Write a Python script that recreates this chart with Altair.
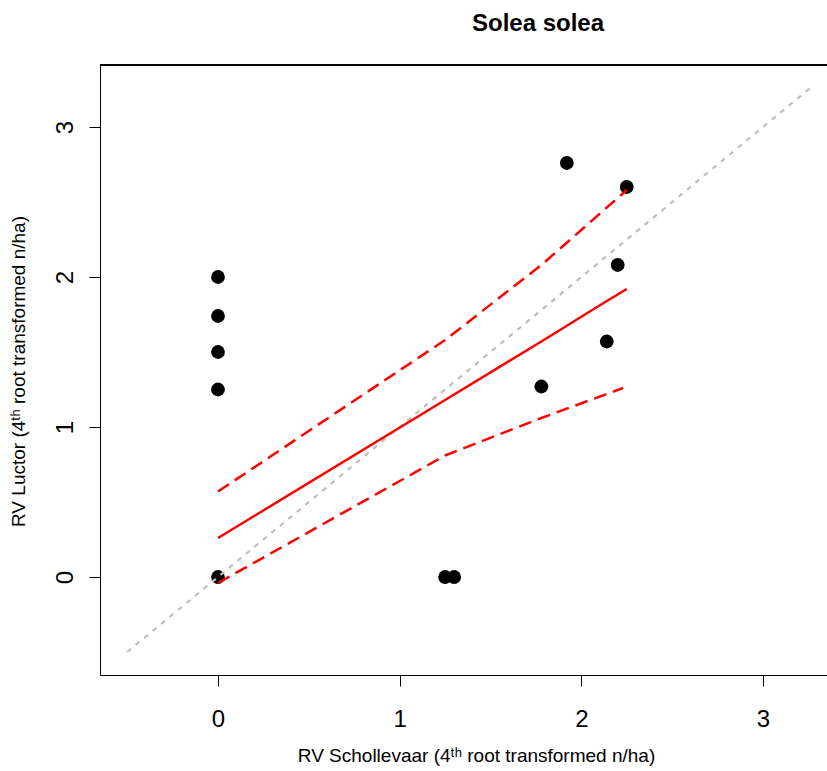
import altair as alt
import pandas as pd

# observed points (4th-root transformed n/ha)
pt_x = [0, 0, 0, 0, 0, 1.25, 1.30, 1.78, 1.92, 2.25, 2.20, 2.14]
pt_y = [0, 1.25, 1.50, 1.74, 2.00, 0, 0, 1.27, 2.76, 2.60, 2.08, 1.57]

# fitted line
fit_x = [0, 1.25, 1.78, 2.14, 2.25]
fit_y = [0.26, 1.18, 1.57, 1.84, 1.92]

# confidence band (dashed)
up_x = [0, 1.25, 1.78, 2.25]
up_y = [0.57, 1.58, 2.08, 2.58]
lo_x = [0, 1.25, 1.78, 2.23]
lo_y = [-0.04, 0.81, 1.06, 1.26]

# 1:1 reference line
ref_x = [-0.5, 3.27]
ref_y = [-0.5, 3.27]

# axis tick labels
tick_vals = [0, 1, 2, 3]

W, H = 727, 610
X_DOM = [-0.6495, 3.3522]
Y_DOM = [-0.6533, 3.4133]
FONT = "Liberation Sans"

pts = pd.DataFrame({"x": pt_x, "y": pt_y})
fit = pd.DataFrame({"x": fit_x, "y": fit_y})
band = pd.concat([
    pd.DataFrame({"x": up_x, "y": up_y, "band": "upper"}),
    pd.DataFrame({"x": lo_x, "y": lo_y, "band": "lower"}),
])
ref = pd.DataFrame({"x": ref_x, "y": ref_y})

xscale = alt.Scale(domain=X_DOM, nice=False, zero=False)
yscale = alt.Scale(domain=Y_DOM, nice=False, zero=False)

xaxis = alt.Axis(
    values=tick_vals, format="d", grid=False, tickSize=11, tickColor="black",
    domainColor="black", labelFontSize=24, labelFont=FONT, labelColor="black",
    labelBaseline="alphabetic", labelPadding=40, labelFlush=False,
    title="RV Schollevaar (4ᵗʰ root transformed n/ha)",
    titleFont=FONT, titleFontSize=19, titleFontWeight="normal", titleColor="black",
    titleX=376, titleY=80, titleAlign="center", titleBaseline="middle",
)
yaxis = alt.Axis(
    values=tick_vals, format="d", grid=False, tickSize=11, tickColor="black",
    domainColor="black", labelFontSize=24, labelFont=FONT, labelColor="black",
    labelAngle=270, labelAlign="center", labelBaseline="alphabetic",
    labelPadding=17, labelFlush=False,
    title="RV Luctor (4ᵗʰ root transformed n/ha)",
    titleFont=FONT, titleFontSize=19, titleFontWeight="normal", titleColor="black",
    titleX=-82, titleY=306, titleAngle=270, titleAlign="center", titleBaseline="middle",
)

points = alt.Chart(pts).mark_circle(size=190, color="black", opacity=1).encode(
    x=alt.X("x:Q", scale=xscale, axis=xaxis),
    y=alt.Y("y:Q", scale=yscale, axis=yaxis),
)

refline = alt.Chart(ref).mark_line(
    color="#BEBEBE", strokeWidth=2.2, strokeDash=[5, 6]
).encode(x=alt.X("x:Q", scale=xscale), y=alt.Y("y:Q", scale=yscale))

fitline = alt.Chart(fit).mark_line(color="#FF0000", strokeWidth=2.5).encode(
    x=alt.X("x:Q", scale=xscale), y=alt.Y("y:Q", scale=yscale)
)

bandlines = alt.Chart(band).mark_line(
    color="#FF0000", strokeWidth=2.5, strokeDash=[13, 7]
).encode(
    x=alt.X("x:Q", scale=xscale), y=alt.Y("y:Q", scale=yscale), detail="band:N"
)

topframe = alt.Chart(pts).mark_rule(color="black", strokeWidth=1).encode(
    x=alt.value(0), x2=alt.value(W), y=alt.value(0)
)

chart = alt.layer(points, refline, fitline, bandlines, topframe).properties(
    width=W, height=H,
    title=alt.TitleParams(
        "Solea solea", font=FONT, fontSize=24, fontWeight="bold", color="black",
        anchor="middle", dx=74.5, offset=10, baseline="alphabetic",
    ),
    autosize=alt.AutoSizeParams(type="none"),
    padding={"left": 100, "top": 65, "right": 0, "bottom": 96},
).configure_view(stroke=None).configure(background="white")

chart.save("out.html", embed_options={"renderer": "svg", "actions": False})
